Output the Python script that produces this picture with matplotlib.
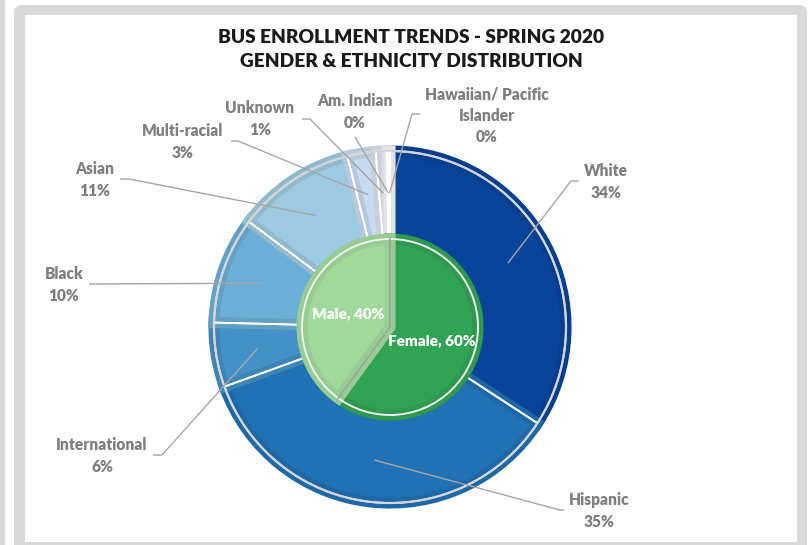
import numpy as np
import matplotlib
matplotlib.use('Agg')
import matplotlib.pyplot as plt
from matplotlib.patches import FancyBboxPatch, Rectangle, Circle
from matplotlib.colors import to_rgb

plt.rcParams['font.family'] = ['Lato', 'DejaVu Sans']

# outer ring: ethnicity (clockwise from 12 o'clock)
eth_names = ['White', 'Hispanic', 'International', 'Black', 'Asian',
             'Multi-racial', 'Unknown', 'Am. Indian', 'Hawaiian/ Pacific\nIslander']
eth_values = [34.2, 35.3, 5.9, 9.8, 10.9, 2.6, 1.0, 0.2, 0.1]
eth_colors = ['#08459a', '#2171b5', '#4391c6', '#6baed6', '#9ecae1',
              '#c6dbef', '#dce2ec', '#eceff5', '#f6f7f9']

# inner pie: gender
gen_names = ['Female', 'Male']
gen_values = [60, 40]
gen_colors = ['#31a354', '#a1d99b']

W, H = 812, 545
CX, CY = 390, 327      # pie centre in pixels (y down)
R_OUT, R_IN = 176, 88


def P(x, y):
    return x, H - y


def darker(c, f=0.86):
    return tuple(v * f for v in to_rgb(c))


fig = plt.figure(figsize=(W / 100, H / 100), dpi=100)
ax = fig.add_axes([0, 0, 1, 1])

# background panels
ax.add_patch(Rectangle((0, 0), 4, H, color='#d9d9d9', zorder=0))
ax.add_patch(FancyBboxPatch(P(14, 555), 793, 550, boxstyle='round,pad=0,rounding_size=8',
                            facecolor='#d9d9d9', edgecolor='none', zorder=0))
ax.add_patch(Rectangle(P(25, 542), 772, 527, facecolor='white', edgecolor='none', zorder=0))

center = P(CX, CY)

# outer ring
wedges, _ = ax.pie(eth_values, colors=eth_colors, radius=R_OUT, center=center,
                   startangle=90, counterclock=False,
                   wedgeprops=dict(width=R_OUT - R_IN, linewidth=0))
for w, c in zip(wedges, eth_colors):
    w.set_edgecolor(darker(c, 0.92))
    w.set_linewidth(8)
    w.set_clip_path(w)
    w.set_zorder(2)
sep, _ = ax.pie(eth_values, colors=['none'] * len(eth_values), radius=R_OUT, center=center,
                startangle=90, counterclock=False,
                wedgeprops=dict(width=R_OUT - R_IN, edgecolor='white', linewidth=1.3))
for w in sep:
    w.set_zorder(3)
ax.add_patch(Circle(center, R_OUT, fill=False, edgecolor='#d4d4d4', linewidth=1.6, zorder=3.5))

# inner pie
gw, _ = ax.pie(gen_values, colors=gen_colors, radius=R_IN, center=center,
               startangle=90, counterclock=False, wedgeprops=dict(linewidth=0))
for w, c in zip(gw, gen_colors):
    w.set_edgecolor(darker(c, 0.94))
    w.set_linewidth(8)
    w.set_clip_path(w)
    w.set_zorder(4)
ax.add_patch(Circle(center, R_IN, fill=False, edgecolor='#eeeeee', linewidth=1.4, zorder=5))
ax.plot([center[0], center[0]], [center[1], center[1] + R_IN], color='#9aa89a', lw=1.2, zorder=5)
ang_f = np.deg2rad(90 - 360 * gen_values[0] / 100)
ax.plot([center[0], center[0] + R_IN * np.cos(ang_f)], [center[1], center[1] + R_IN * np.sin(ang_f)],
        color='#9aa89a', lw=1.2, zorder=5)

# gender labels
cum = 0
for name, v in zip(gen_names, gen_values):
    mid = cum + v / 2
    cum += v
    a = np.deg2rad(90 - 360 * mid / 100)
    r = 44
    ax.text(center[0] + r * np.cos(a), center[1] + r * np.sin(a), f'{name}, {v}%',
            ha='center', va='center', color='white', fontsize=11, fontweight='heavy', zorder=6)

# ethnicity labels: text centre, elbow point, end of horizontal stub
label_pos = [(606, 182), (599, 511), (102, 456), (64, 285), (95, 180),
             (183, 142), (260, 119), (355, 112), (487, 116)]
elbows = [(571, 181), (560, 510), (162, 455), (89, 284), (129, 179),
          (238, 141), (310, 119), (355, 137), (412, 114)]
stubs = [(579, 181), (564, 510), (153, 455), (89, 284), (120, 179),
         (231, 141), (302, 119), (355, 137), (420, 114)]

cum = 0
for name, v, lp, el, st in zip(eth_names, eth_values, label_pos, elbows, stubs):
    mid = cum + v / 2
    cum += v
    a = np.deg2rad(90 - 360 * mid / 100)
    r = (R_OUT + R_IN) / 2 + 2
    a0 = (center[0] + r * np.cos(a), center[1] + r * np.sin(a))
    xs = [a0[0], el[0], st[0]]
    ys = [a0[1], H - el[1], H - st[1]]
    ax.plot(xs, ys, color='#a6a6a6', lw=1.0, zorder=7, solid_capstyle='butt')
    ax.text(lp[0], H - lp[1], f'{name}\n{round(v):d}%', ha='center', va='center',
            color='#7f7f7f', fontsize=11.2, fontweight='heavy', linespacing=1.4, zorder=8)

ax.text(*P(411, 38), 'BUS ENROLLMENT TRENDS - SPRING 2020', ha='center', va='center',
        fontsize=13.8, fontweight='heavy', color='#1a1a1a')
ax.text(*P(411, 62), 'GENDER & ETHNICITY DISTRIBUTION', ha='center', va='center',
        fontsize=13.8, fontweight='heavy', color='#1a1a1a')

ax.set_xlim(0, W)
ax.set_ylim(0, H)
ax.set_aspect('equal')
ax.axis('off')

fig.savefig('out.png', dpi=100)
